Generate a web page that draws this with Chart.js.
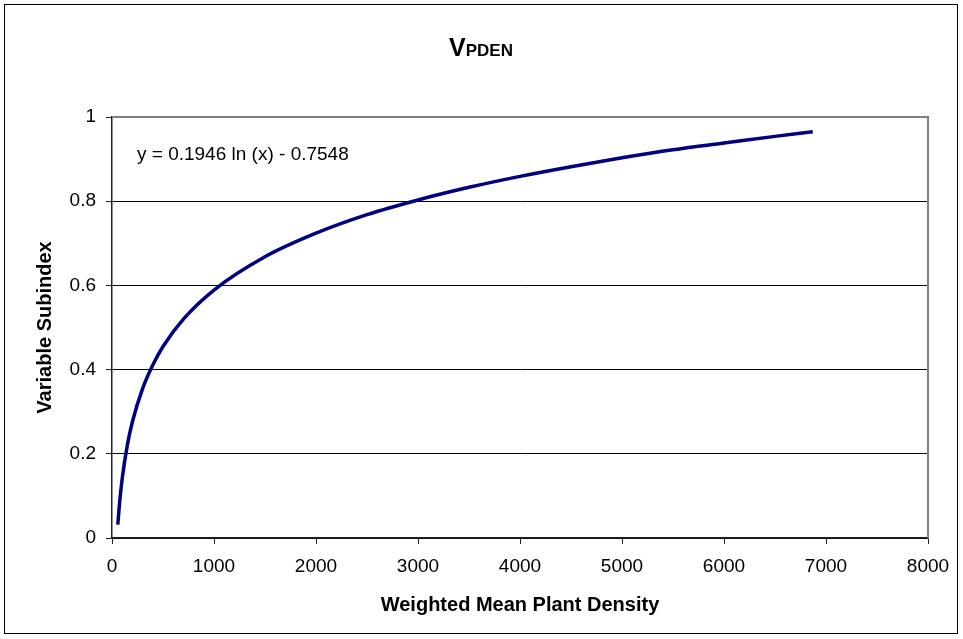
<!DOCTYPE html>
<html>
<head>
<meta charset="utf-8">
<script src="https://cdn.jsdelivr.net/npm/chart.js@4.4.1/dist/chart.umd.min.js"></script>
<style>
  html, body { margin: 0; padding: 0; background: #fff; }
  canvas { display: block; }
</style>
</head>
<body>
<canvas id="myChart" width="963" height="639"></canvas>
<script>
// values
var density = [57, 75, 100, 150, 200, 300, 400, 500, 700, 1000, 1500, 2000, 2500, 3000, 3500, 4000, 4500, 5000, 5500, 6000, 6500, 6870];
var subindex = [0.032, 0.085, 0.141, 0.220, 0.276, 0.355, 0.411, 0.455, 0.520, 0.589, 0.668, 0.724, 0.768, 0.803, 0.833, 0.859, 0.882, 0.903, 0.922, 0.938, 0.954, 0.965];
var xTicks = [0, 1000, 2000, 3000, 4000, 5000, 6000, 7000, 8000];
var yTicks = [0, 0.2, 0.4, 0.6, 0.8, 1];
var equation = "y = 0.1946 ln (x) - 0.7548";

var points = [];
for (var i = 0; i < density.length; i++) {
	points.push({ x: density[i], y: subindex[i] });
}

var FONT = "'Liberation Sans', Arial, sans-serif";

// white page, outer frame, title, plot border and equation
var decorations = {
	id: "decorations",
	beforeDraw: function(chart) {
		var ctx = chart.ctx;
		ctx.save();
		ctx.fillStyle = "#fff";
		ctx.fillRect(0, 0, chart.width, chart.height);
		ctx.strokeStyle = "#000";
		ctx.lineWidth = 1;
		ctx.strokeRect(4.5, 4.5, 953, 629);
		ctx.restore();
	},
	afterDatasetsDraw: function(chart) {
		var ctx = chart.ctx;
		var area = chart.chartArea;
		var xs = chart.scales.x, ys = chart.scales.y;
		ctx.save();
		// top and right border of the plot
		ctx.strokeStyle = "#808080";
		ctx.lineWidth = 2;
		ctx.beginPath();
		ctx.moveTo(area.left, area.top);
		ctx.lineTo(area.right, area.top);
		ctx.lineTo(area.right, area.bottom);
		ctx.stroke();

		// title: V with smaller PDEN
		ctx.fillStyle = "#000";
		ctx.textBaseline = "alphabetic";
		ctx.font = "bold 25px " + FONT;
		var w1 = ctx.measureText("V").width;
		ctx.font = "bold 17px " + FONT;
		var w2 = ctx.measureText("PDEN").width;
		var start = 481 - (w1 + w2) / 2;
		ctx.font = "bold 25px " + FONT;
		ctx.fillText("V", start, 56);
		ctx.font = "bold 17px " + FONT;
		ctx.fillText("PDEN", start + w1, 56);

		// trendline equation
		ctx.font = "19px " + FONT;
		ctx.textBaseline = "middle";
		ctx.fillText(equation, xs.getPixelForValue(245), ys.getPixelForValue(0.91));
		ctx.restore();
	}
};

new Chart("myChart", {
	type: "line",
	data: {
		datasets: [{
			data: points,
			borderColor: "#000080",
			borderWidth: 3.5,
			pointRadius: 0,
			fill: false,
			cubicInterpolationMode: "monotone"
		}]
	},
	options: {
		responsive: false,
		animation: false,
		layout: { padding: { left: 0, right: 35, top: 117, bottom: 0 } },
		plugins: {
			legend: { display: false },
			title: { display: false },
			tooltip: { enabled: false }
		},
		scales: {
			x: {
				type: "linear",
				min: xTicks[0],
				max: xTicks[xTicks.length - 1],
				afterFit: function(scale) { scale.height = 101; },
				afterBuildTicks: function(scale) {
					scale.ticks = xTicks.map(function(v) { return { value: v }; });
				},
				ticks: {
					color: "#000",
					font: { family: FONT, size: 19 },
					padding: 11,
					maxRotation: 0,
					callback: function(v) { return String(v); }
				},
				grid: {
					drawOnChartArea: false,
					drawTicks: true,
					tickLength: 6,
					tickColor: "#222"
				},
				border: { color: "#222", width: 1.5 },
				title: {
					display: true,
					text: "Weighted Mean Plant Density",
					color: "#000",
					font: { family: FONT, size: 20, weight: "bold" },
					padding: { top: 0, bottom: 22 }
				}
			},
			y: {
				min: yTicks[0],
				max: yTicks[yTicks.length - 1],
				afterFit: function(scale) { scale.width = 112; },
				afterBuildTicks: function(scale) {
					scale.ticks = yTicks.map(function(v) { return { value: v }; });
				},
				ticks: {
					color: "#000",
					font: { family: FONT, size: 19 },
					padding: 10,
					callback: function(v) { return String(v); }
				},
				grid: {
					color: function(c) { return c.tick && c.tick.value === 1 ? "#808080" : "#000"; },
					lineWidth: 1,
					drawTicks: true,
					tickLength: 6,
					tickColor: "#222"
				},
				border: { color: "#222", width: 1.5 },
				title: {
					display: true,
					text: "Variable Subindex",
					color: "#000",
					font: { family: FONT, size: 20, weight: "bold" },
					padding: { top: 33, bottom: 0 }
				}
			}
		}
	},
	plugins: [decorations]
});
</script>
</body>
</html>
